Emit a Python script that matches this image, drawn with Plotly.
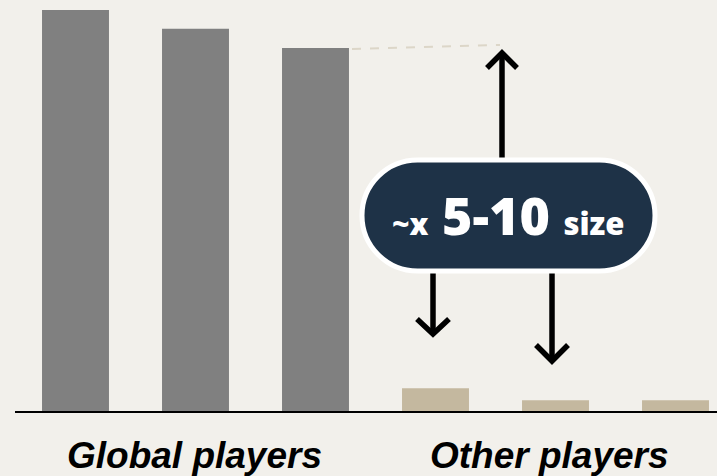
import plotly.graph_objects as go

# Market size by player (relative units)
players = ["G1", "G2", "G3", "O1", "O2", "O3"]
market_size = [100, 95.3, 90.5, 5.7, 2.7, 2.7]
bar_colors = ["#808080", "#808080", "#808080", "#c4b89f", "#c4b89f", "#c4b89f"]
group_labels = ["Global players", "Other players"]
badge_text = ("<span style='font-size:30px'>~x</span> 5-10 "
              "<span style='font-size:31px'>size</span>")

W, H = 717, 476
ML, MB = 15, 65
PLOT_W, PLOT_H = W - ML, H - MB
BG = "#f2f0eb"


def px(x, y):
    """Convert page pixels to paper coordinates."""
    return (x - ML) / PLOT_W, (PLOT_H - y) / PLOT_H


def pill_path(x0, y0, x1, y1):
    r = (y1 - y0) / 2
    yc = (y0 + y1) / 2
    k = 0.5523 * r
    parts = [
        ("M", [(x0 + r, y0)]),
        ("L", [(x1 - r, y0)]),
        ("C", [(x1 - r + k, y0), (x1, yc - k), (x1, yc)]),
        ("C", [(x1, yc + k), (x1 - r + k, y1), (x1 - r, y1)]),
        ("L", [(x0 + r, y1)]),
        ("C", [(x0 + r - k, y1), (x0, yc + k), (x0, yc)]),
        ("C", [(x0, yc - k), (x0 + r - k, y0), (x0 + r, y0)]),
    ]
    return " ".join(c + " ".join("%.5f,%.5f" % px(*p) for p in pts) for c, pts in parts) + " Z"


def polyline(points):
    s = "M" + "%.5f,%.5f" % px(*points[0])
    for p in points[1:]:
        s += " L" + "%.5f,%.5f" % px(*p)
    return s


fig = go.Figure(go.Bar(
    x=list(range(len(players))),
    y=market_size,
    width=0.558,
    marker=dict(color=bar_colors, line=dict(width=0)),
    hoverinfo="skip",
))

arrow_style = dict(type="path", xref="paper", yref="paper",
                   line=dict(color="#000000", width=5.5))
shapes = [
    # dashed guide from the third bar to the arrow tip
    dict(type="path", xref="paper", yref="paper",
         path=polyline([(352, 49), (500, 45)]),
         line=dict(color="#dcd6c8", width=2, dash="dash")),
    # up arrow
    dict(arrow_style, path=polyline([(502, 165), (502, 53)])),
    dict(arrow_style, path=polyline([(487, 68), (502, 53), (517, 68)])),
    # down arrows
    dict(arrow_style, path=polyline([(433, 265), (433, 334)])),
    dict(arrow_style, path=polyline([(417, 319), (433, 334), (449, 319)])),
    dict(arrow_style, path=polyline([(552, 265), (552, 361)])),
    dict(arrow_style, path=polyline([(536, 345), (552, 361), (568, 345)])),
    # badge
    dict(type="path", xref="paper", yref="paper",
         path=pill_path(362, 160, 655, 271),
         fillcolor="#1e3247", line=dict(color="#ffffff", width=5)),
]

label_font = dict(family="Liberation Sans", size=37, color="#000000",
                  weight="bold", style="italic")
annotations = [
    dict(xref="paper", yref="paper", x=px(508, 0)[0], y=px(0, 214)[1],
         text=badge_text, showarrow=False, xanchor="center", yanchor="middle",
         font=dict(family="Open Sans", size=52, color="#ffffff", weight=800)),
    dict(xref="x", yref="paper", x=(194.5 - 75.5) / 120, y=px(0, 455)[1],
         text=group_labels[0], showarrow=False, xanchor="center",
         yanchor="middle", font=label_font),
    dict(xref="x", yref="paper", x=(549 - 75.5) / 120, y=px(0, 455)[1],
         text=group_labels[1], showarrow=False, xanchor="center",
         yanchor="middle", font=label_font),
]

fig.update_layout(
    width=W, height=H,
    margin=dict(l=ML, r=0, t=0, b=MB),
    paper_bgcolor=BG, plot_bgcolor=BG,
    showlegend=False,
    shapes=shapes,
    annotations=annotations,
    xaxis=dict(range=[(ML - 75.5) / 120, (W - 75.5) / 120], showticklabels=False,
               showgrid=False, zeroline=False, showline=True,
               linecolor="#000000", linewidth=2, ticks="", fixedrange=True),
    yaxis=dict(range=[0, 102.5], visible=False, fixedrange=True),
)

fig.write_html("out.html")
